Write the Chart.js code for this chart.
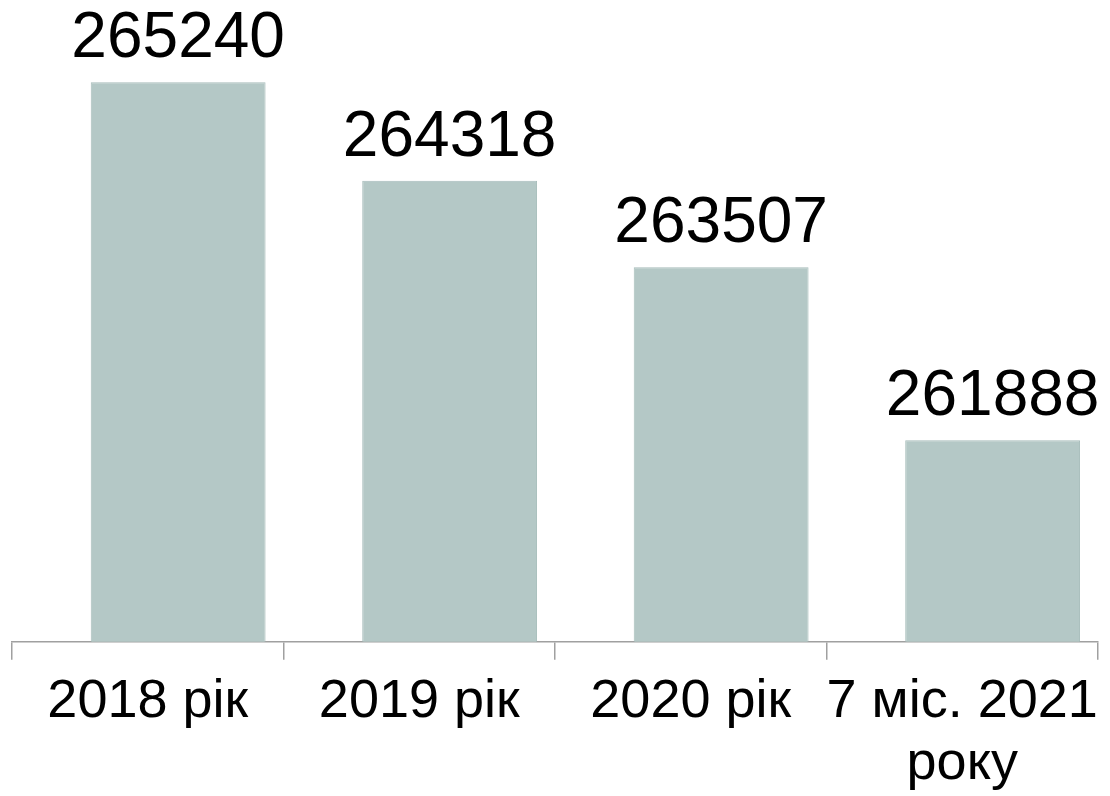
<!DOCTYPE html>
<html>
<head>
<meta charset="utf-8">
<script src="https://cdn.jsdelivr.net/npm/chart.js@4/dist/chart.umd.min.js"></script>
<style>
html,body{margin:0;padding:0;background:#fff;overflow:hidden;width:1110px;height:796px;}
#wrap{width:1110px;height:806px;position:relative;}
</style>
</head>
<body>
<div id="wrap"><canvas id="c"></canvas></div>
<script>
const categories = ['2018 рік', '2019 рік', '2020 рік', ['7 міс. 2021', 'року']];
const values = [265240, 264318, 263507, 261888];
const yMin = 260000;
const yMax = 266000;

// bars sit slightly right of the category centre in the original
const barShift = {
  id: 'barShift',
  afterDatasetsUpdate(chart) {
    const xs = chart.scales.x;
    const catW = xs.width / chart.data.labels.length;
    chart.getDatasetMeta(0).data.forEach(bar => { bar.x += 0.112 * catW; });
  }
};

const valueLabels = {
  id: 'valueLabels',
  afterDatasetsDraw(chart) {
    const ctx = chart.ctx;
    const meta = chart.getDatasetMeta(0);
    ctx.save();
    ctx.font = '64px "Liberation Sans", Arial, sans-serif';
    ctx.fillStyle = '#000';
    ctx.textAlign = 'center';
    ctx.textBaseline = 'alphabetic';
    meta.data.forEach((bar, i) => {
      ctx.fillText(String(values[i]), bar.x, bar.y - 25);
    });
    ctx.restore();
  }
};

new Chart(document.getElementById('c'), {
  type: 'bar',
  data: {
    labels: categories,
    datasets: [{
      data: values,
      backgroundColor: '#b4c8c6',
      borderColor: '#a6bcba',
      borderWidth: 1,
      barPercentage: 0.644,
      categoryPercentage: 1
    }]
  },
  options: {
    responsive: true,
    maintainAspectRatio: false,
    animation: false,
    layout: { padding: { left: 12, right: 9, top: 1, bottom: 0 } },
    plugins: { legend: { display: false }, tooltip: { enabled: false } },
    scales: {
      y: { display: false, min: yMin, max: yMax },
      x: {
        border: { display: true, color: '#a0a0a0', width: 1.5 },
        grid: { display: true, drawOnChartArea: false, drawTicks: true, tickLength: 18, color: '#a0a0a0', lineWidth: 1.5, offset: true },
        ticks: {
          color: '#000',
          font: { family: '"Liberation Sans", Arial, sans-serif', size: 54, lineHeight: 1.15 },
          padding: 11,
          maxRotation: 0,
          autoSkip: false
        }
      }
    }
  },
  plugins: [barShift, valueLabels]
});
</script>
</body>
</html>
